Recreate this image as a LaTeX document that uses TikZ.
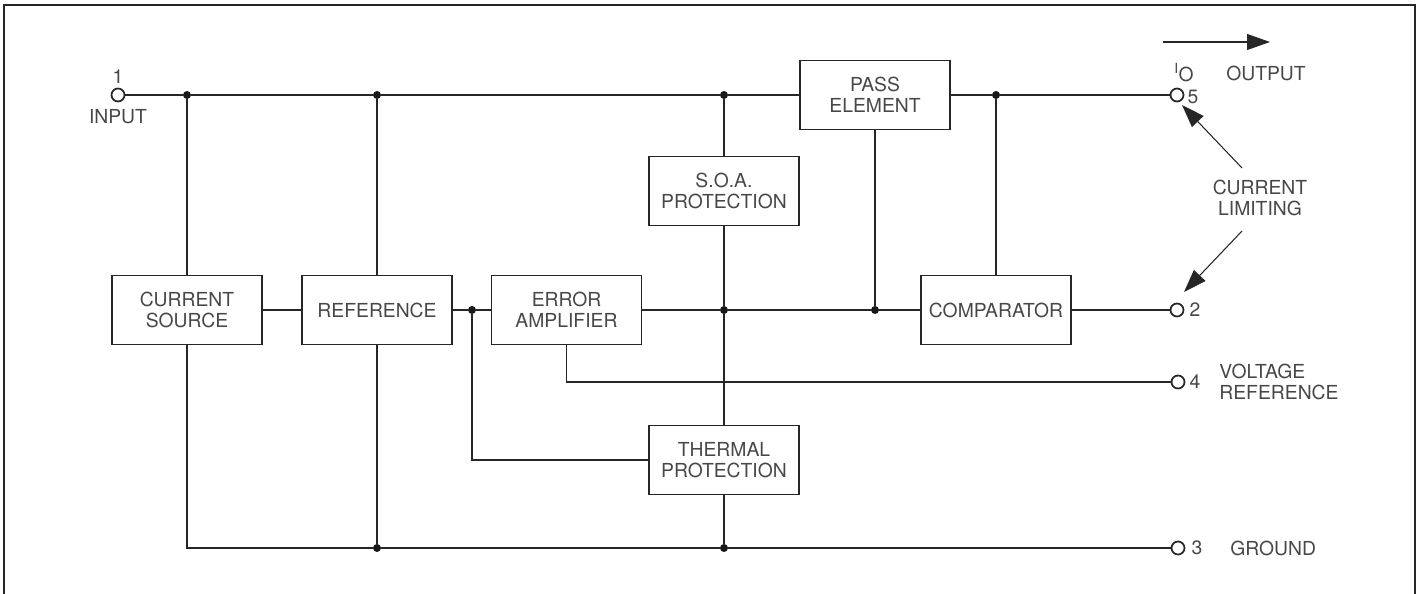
\documentclass[tikz,border=0pt]{standalone}
\usepackage{fontspec}
\setmainfont{TeX Gyre Heros}
\usetikzlibrary{arrows.meta}
\newcommand\lblfont{\fontsize{11}{12}\selectfont}
\begin{document}
\begin{tikzpicture}[x=0.02cm,y=-0.02cm,
  blk/.style={draw=black!85, line width=1pt, minimum width=3cm, minimum height=1.38cm,
    align=center, inner sep=0pt, font=\lblfont, text=black!72},
  wire/.style={draw=black!85, line width=1pt},
  term/.style={circle, draw=black!85, line width=1pt, inner sep=0pt, minimum size=0.26cm},
  dot/.style={circle, fill=black!90, inner sep=0pt, minimum size=0.16cm},
  lbl/.style={font=\lblfont, text=black!72, inner sep=0pt},
  tip/.style={-{Triangle[length=13pt,width=9pt]}, draw=black!85, line width=0.6pt}
]
\useasboundingbox (0,0) rectangle (1425,594);
% frame (open at the bottom)
\draw[black!85, line width=1.5pt] (4,600) -- (4,5) -- (1415,5) -- (1415,600);

% blocks
\node[blk] (cs)    at (187,310)   {CURRENT\\SOURCE};
\node[blk] (ref)   at (377,310)   {REFERENCE};
\node[blk] (ea)    at (566.5,310) {ERROR\\AMPLIFIER};
\node[blk] (soa)   at (724,191)   {S.O.A.\\PROTECTION};
\node[blk] (pass)  at (875,95)    {PASS\\ELEMENT};
\node[blk] (comp)  at (996,310)   {COMPARATOR};
\node[blk] (therm) at (724,460)   {THERMAL\\PROTECTION};

% terminals
\node[term] (t1) at (118,95)  {};
\node[term] (t5) at (1177,95) {};
\node[term] (t2) at (1177,310){};
\node[term] (t4) at (1178,382){};
\node[term] (t3) at (1178,548){};

% junctions
\node[dot] (j1) at (187,95)  {};
\node[dot] (j2) at (377,95)  {};
\node[dot] (j3) at (724,95)  {};
\node[dot] (j4) at (996,95)  {};
\node[dot] (j5) at (472,310) {};
\node[dot] (j6) at (724,310) {};
\node[dot] (j7) at (875,310) {};
\coordinate (g1) at (187,548);
\node[dot] (g2) at (377,548) {};
\node[dot] (g3) at (724,548) {};

% wires
\draw[wire] (t1) -- (j1) -- (j2) -- (j3) -- (pass.west);
\draw[wire] (pass.east) -- (j4) -- (t5);
\draw[wire] (j1) -- (cs.north);
\draw[wire] (j2) -- (ref.north);
\draw[wire] (cs.south) -- (g1) -- (g2) -- (g3) -- (t3);
\draw[wire] (ref.south) -- (g2);
\draw[wire] (cs.east) -- (ref.west);
\draw[wire] (ref.east) -- (j5) -- (ea.west);
\draw[wire] (ea.east) -- (j6) -- (j7) -- (comp.west);
\draw[wire] (comp.east) -- (t2);
\draw[wire] (j3) -- (soa.north);
\draw[wire] (soa.south) -- (j6) -- (therm.north);
\draw[wire] (therm.south) -- (g3);
\draw[wire] (pass.south) -- (j7);
\draw[wire] (j4) -- (comp.north);
\draw[wire] (ea.south) |- (t4);
\draw[wire] (j5) |- (therm.west);

% labels
\node[lbl] (n1) at (118,77) {1};
\node[lbl] (lin) at (118,117) {INPUT};
\node[lbl] (n5) at (1193,97) {5};
\node[lbl] (n2) at (1195,310) {2};
\node[lbl] (n4) at (1195,382) {4};
\node[lbl] (n3) at (1197,548) {3};
\node[lbl] (io) at (1184,73) {\raisebox{4.5pt}{\fontsize{8}{9}\selectfont I}\kern0.3pt O};
\node[lbl] (lout) at (1266,73) {OUTPUT};
\node[lbl, anchor=west, align=left] (lvr) at (1219,382) {VOLTAGE\\REFERENCE};
\node[lbl, anchor=west] (lgnd) at (1230,548) {GROUND};
\node[lbl, align=center] (lcl) at (1260,198) {CURRENT\\LIMITING};

% arrows
\coordinate (oa1) at (1163,42);
\coordinate (oa2) at (1270,42);
\draw[tip] (oa1) -- (oa2);
\coordinate (cu1) at (1242,168);
\coordinate (cu2) at (1182,105);
\draw[tip] (cu1) -- (cu2);
\coordinate (cd1) at (1242,231);
\coordinate (cd2) at (1184,292);
\draw[tip] (cd1) -- (cd2);
\end{tikzpicture}
\end{document}
